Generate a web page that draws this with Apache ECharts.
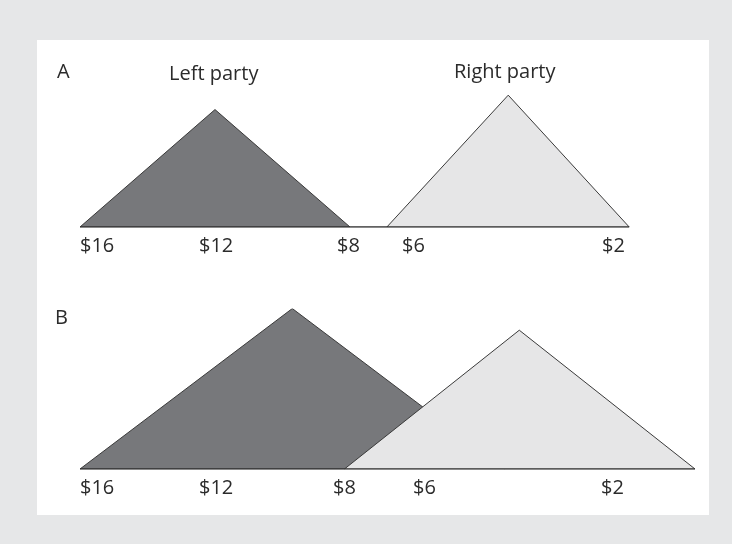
<!DOCTYPE html>
<html><head><meta charset="utf-8">
<script src="https://cdn.jsdelivr.net/npm/echarts@6/dist/echarts.min.js"></script>
<style>html,body{margin:0;padding:0;background:#e6e7e8}#c{width:732px;height:544px}</style>
</head><body><div id="c"></div>
<script>
// Horizontal position units: 0..100 across the panel; height units: 0..100
// Panel A
const aLeftParty = [[0, 0], [21.95, 73.4], [43.9, 0]];
const aRightParty = [[49.9, 0], [69.63, 82.4], [89.3, 0]];
const aBaseline = [[0, 0], [89.3, 0]];
const aTickPos = [0, 19.35, 41.79, 52.36, 84.88];
const aTickLabels = ['$16', '$12', '$8', '$6', '$2'];
// Panel B
const bLeftParty = [[0, 0], [34.52, 100.3], [69.1, 0]];
const bRightParty = [[43.0, 0], [71.43, 86.75], [100, 0]];
const bBaseline = [[0, 0], [100, 0]];
const bTickPos = [0, 19.35, 41.14, 54.15, 84.72];
const bTickLabels = ['$16', '$12', '$8', '$6', '$2'];

const FONT = 'Open Sans';
const FS = 20;
const TXT = '#2b2b2b';
const DARK = '#77787b';
const LIGHT = '#e6e6e7';
const EDGE = '#3a3a3a';

function xAxisFor(gridIndex, pos, labels) {
  return {
    type: 'value', gridIndex: gridIndex, min: 0, max: 100,
    axisLine: {show: false}, axisTick: {show: false}, splitLine: {show: false},
    axisLabel: {
      customValues: pos,
      align: 'left', margin: 9,
      fontFamily: FONT, fontSize: FS, color: TXT,
      formatter: function (v) {
        let best = 0, bd = Infinity;
        pos.forEach(function (p, i) { const d = Math.abs(p - v); if (d < bd) { bd = d; best = i; } });
        return labels[best];
      }
    }
  };
}
function yAxisFor(gridIndex) {
  return {type: 'value', gridIndex: gridIndex, min: 0, max: 100, show: false};
}
function tri(name, data, idx, fill, z) {
  return {
    name: name, type: 'line', xAxisIndex: idx, yAxisIndex: idx, data: data, z: z,
    showSymbol: false, symbol: 'none', smooth: false, silent: true,
    lineStyle: {color: EDGE, width: 1},
    areaStyle: {color: fill, opacity: 1}
  };
}
function base(data, idx) {
  return {
    type: 'line', xAxisIndex: idx, yAxisIndex: idx, data: data, z: 6,
    showSymbol: false, symbol: 'none', silent: true,
    lineStyle: {color: '#2e2e2e', width: 1.5}
  };
}

const chart = echarts.init(document.getElementById('c'), null, {renderer: 'canvas'});
const tf = FS + 'px "' + FONT + '"';
chart.setOption({
  backgroundColor: '#e6e7e8',
  animation: false,
  graphic: [
    {type: 'rect', left: 37, top: 40, z: -10, shape: {width: 672, height: 475}, style: {fill: '#ffffff'}},
    {type: 'text', x: 57, y: 72, style: {text: 'A', font: tf, fill: TXT, verticalAlign: 'middle'}},
    {type: 'text', x: 169, y: 74, style: {text: 'Left party', font: tf, fill: TXT, verticalAlign: 'middle'}},
    {type: 'text', x: 454, y: 72.5, style: {text: 'Right party', font: tf, fill: TXT, verticalAlign: 'middle'}},
    {type: 'text', x: 55, y: 318.5, style: {text: 'B', font: tf, fill: TXT, verticalAlign: 'middle'}}
  ],
  grid: [
    {left: 80, width: 615, top: 67, height: 160},
    {left: 80, width: 615, top: 309, height: 160}
  ],
  xAxis: [xAxisFor(0, aTickPos, aTickLabels), xAxisFor(1, bTickPos, bTickLabels)],
  yAxis: [yAxisFor(0), yAxisFor(1)],
  series: [
    tri('Left party', aLeftParty, 0, DARK, 2),
    tri('Right party', aRightParty, 0, LIGHT, 3),
    base(aBaseline, 0),
    tri('Left party', bLeftParty, 1, DARK, 2),
    tri('Right party', bRightParty, 1, LIGHT, 4),
    base(bBaseline, 1)
  ]
});
</script></body></html>
